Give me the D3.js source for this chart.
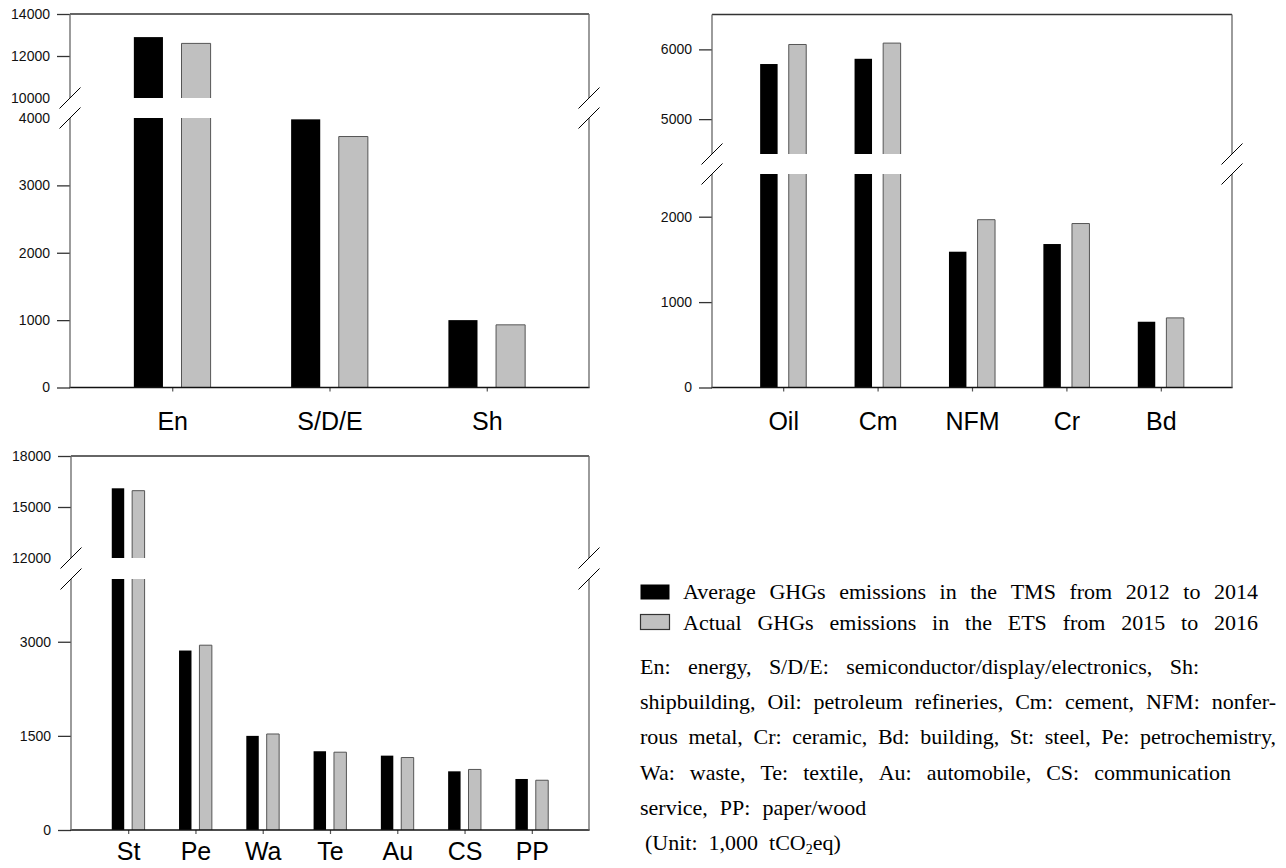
<!DOCTYPE html>
<html><head><meta charset="utf-8">
<script src="https://cdn.jsdelivr.net/npm/d3@7"></script>
<style>body{margin:0;background:#fff}svg{display:block}</style>
</head><body><svg id="c" width="1286" height="868"></svg>
<script>
// ---- data ----
const cat1 = ["En", "S/D/E", "Sh"];
const tms1 = [12900, 3980, 1000];
const ets1 = [12600, 3725, 930];
const ticks1Up = [14000, 12000, 10000];
const ticks1Lo = [4000, 3000, 2000, 1000, 0];

const cat2 = ["Oil", "Cm", "NFM", "Cr", "Bd"];
const tms2 = [5790, 5865, 1590, 1680, 770];
const ets2 = [6070, 6090, 1965, 1920, 815];
const ticks2Up = [6000, 5000];
const ticks2Lo = [2000, 1000, 0];

const cat3 = ["St", "Pe", "Wa", "Te", "Au", "CS", "PP"];
const tms3 = [16100, 2860, 1500, 1255, 1185, 935, 813];
const ets3 = [15960, 2945, 1530, 1240, 1155, 965, 793];
const ticks3Up = [18000, 15000, 12000];
const ticks3Lo = [3000, 1500, 0];

const legendLabels = ["Average GHGs emissions in the TMS from 2012 to 2014",
                      "Actual GHGs emissions in the ETS from 2015 to 2016"];
const noteLines = [
  "En: energy, S/D/E: semiconductor/display/electronics, Sh:",
  "shipbuilding, Oil: petroleum refineries, Cm: cement, NFM: nonfer-",
  "rous metal, Cr: ceramic, Bd: building, St: steel, Pe: petrochemistry,",
  "Wa: waste, Te: textile, Au: automobile, CS: communication",
  "service, PP: paper/wood"
];

const SANS = "'Liberation Sans', Arial, Helvetica, sans-serif";
const SERIF = "'Liberation Serif', 'Times New Roman', serif";
const svg = d3.select("#c");
svg.append("rect").attr("width", 1286).attr("height", 868).attr("fill", "#fff");

function panel(o) {
  const x = d3.scalePoint().domain(o.cats).range([o.x0, o.x1]).padding(o.pad);
  const yU = d3.scaleLinear().domain(o.upDom).range([o.brkTop, o.top]);
  const yL = d3.scaleLinear().domain(o.loDom).range([o.bottom, o.brkBot]);
  const step = x.step(), w = 0.185 * step, gp = 0.059 * step;
  const series = [
    {vals: o.tms, fill: "#000", stroke: "none", left: true},
    {vals: o.ets, fill: "#c0c0c0", stroke: "#555", left: false}
  ];
  const segs = [];
  series.forEach(s => o.cats.forEach((c, i) => {
    const v = s.vals[i], bx = s.left ? x(c) - gp - w : x(c) + gp;
    if (v > o.loDom[1]) {
      segs.push({x: bx, y0: yL(o.loDom[1]), y1: yL(0), s, cap: false});
      segs.push({x: bx, y0: yU(v), y1: yU(o.upDom[0]), s, cap: true});
    } else segs.push({x: bx, y0: yL(v), y1: yL(0), s, cap: true});
  }));
  const g = svg.append("g");
  g.selectAll("rect.bar").data(segs).join("rect").attr("class", "bar")
    .attr("x", d => d.x).attr("y", d => d.y0).attr("width", w)
    .attr("height", d => d.y1 - d.y0).attr("fill", d => d.s.fill);
  g.selectAll("path.edge").data(segs.filter(d => d.s.stroke !== "none")).join("path").attr("class", "edge")
    .attr("d", d => d.cap
      ? `M${d.x},${d.y1}V${d.y0}H${d.x + w}V${d.y1}`
      : `M${d.x},${d.y1}V${d.y0}M${d.x + w},${d.y0}V${d.y1}`)
    .attr("fill", "none").attr("stroke", d => d.s.stroke).attr("stroke-width", 1);

  const yAxis = (scale, ticks) => {
    const a = g.append("g").attr("transform", `translate(${o.x0},0)`)
      .call(d3.axisLeft(scale).tickValues(ticks).tickSize(13).tickPadding(7).tickFormat(d3.format("d")));
    a.select(".domain").remove();
    a.selectAll(".tick line").attr("stroke", "#333").attr("stroke-width", 1.3)
      .attr("display", d => o.noTick.includes(d) ? "none" : null);
    a.selectAll(".tick text").attr("font-size", 14).attr("font-family", SANS).attr("fill", "#111");
  };
  yAxis(yU, o.upTicks);
  yAxis(yL, o.loTicks);

  const xa = g.append("g").attr("transform", `translate(0,${o.bottom})`)
    .call(d3.axisBottom(x).tickSizeInner(4).tickSizeOuter(0).tickPadding(o.labPad));
  xa.select(".domain").remove();
  xa.selectAll(".tick line").attr("stroke", "#555").attr("stroke-width", 1.2);
  xa.selectAll(".tick text").attr("font-size", 25).attr("font-family", SANS).attr("fill", "#000");

  const L = (a, b, c, d, col, sw) => g.append("line").attr("x1", a).attr("y1", b).attr("x2", c).attr("y2", d)
    .attr("stroke", col).attr("stroke-width", sw);
  L(o.x0, o.top, o.x1, o.top, "#333", 1.3);
  L(o.x0 - 0.6, o.bottom, o.x1 + 0.6, o.bottom, "#111", 1.5);
  [o.x0, o.x1].forEach(xx => {
    L(xx, o.top, xx, o.brkTop, "#666", 1.3);
    L(xx, o.brkBot, xx, o.bottom, "#666", 1.3);
    [o.brkTop, o.brkBot].forEach(yy => L(xx - 10.5, yy + 10.5, xx + 10.5, yy - 10.5, "#000", 1));
  });
}

panel({cats: cat1, tms: tms1, ets: ets1, x0: 70, x1: 589, pad: 0.65, labPad: 21,
  top: 14, brkTop: 98, brkBot: 118, bottom: 387.5,
  upDom: [10000, 14000], loDom: [0, 4000], upTicks: ticks1Up, loTicks: ticks1Lo, noTick: [10000, 4000]});
panel({cats: cat2, tms: tms2, ets: ets2, x0: 712, x1: 1232, pad: 0.754, labPad: 21,
  top: 14.5, brkTop: 154, brkBot: 174, bottom: 387.5,
  upDom: [4500, 6500], loDom: [0, 2500], upTicks: ticks2Up, loTicks: ticks2Lo, noTick: []});
panel({cats: cat3, tms: tms3, ets: ets3, x0: 71, x1: 589, pad: 0.85, labPad: 8,
  top: 456, brkTop: 558, brkBot: 579, bottom: 830,
  upDom: [12000, 18000], loDom: [0, 4000], upTicks: ticks3Up, loTicks: ticks3Lo, noTick: [12000]});

// ---- legend ----
function wordsLine(x, y, words, target) {
  const t = svg.append("text").attr("y", y).attr("font-family", SERIF).attr("font-size", 22).attr("fill", "#000");
  const spans = words.map(w => t.append("tspan").text(w));
  const ws = spans.map(s => s.node().getComputedTextLength());
  const sum = d3.sum(ws);
  const gap = target ? (target - sum) / (words.length - 1) : 12;
  let cx = x;
  spans.forEach((s, i) => { s.attr("x", cx); cx += ws[i] + gap; });
}
svg.append("rect").attr("x", 640.5).attr("y", 584.5).attr("width", 29).attr("height", 15).attr("fill", "#000");
svg.append("rect").attr("x", 640.5).attr("y", 614.5).attr("width", 29).attr("height", 15)
  .attr("fill", "#c0c0c0").attr("stroke", "#333").attr("stroke-width", 1.2);
wordsLine(683, 599, legendLabels[0].split(" "), 575);
wordsLine(683, 630, legendLabels[1].split(" "), 575);

// ---- footnote ----
const noteTargets = [559, 636, 636, 591, null];
noteLines.forEach((ln, i) => wordsLine(640, 674 + i * 35.2, ln.split(" "), noteTargets[i]));
const u = svg.append("text").attr("x", 645).attr("y", 674 + 5 * 35.2)
  .attr("font-family", SERIF).attr("font-size", 22).attr("fill", "#000").attr("xml:space", "preserve");
u.append("tspan").text("(Unit:  1,000  tCO");
u.append("tspan").attr("font-size", 14).attr("dy", 4).text("2");
u.append("tspan").attr("dy", -4).text("eq)");
</script></body></html>
